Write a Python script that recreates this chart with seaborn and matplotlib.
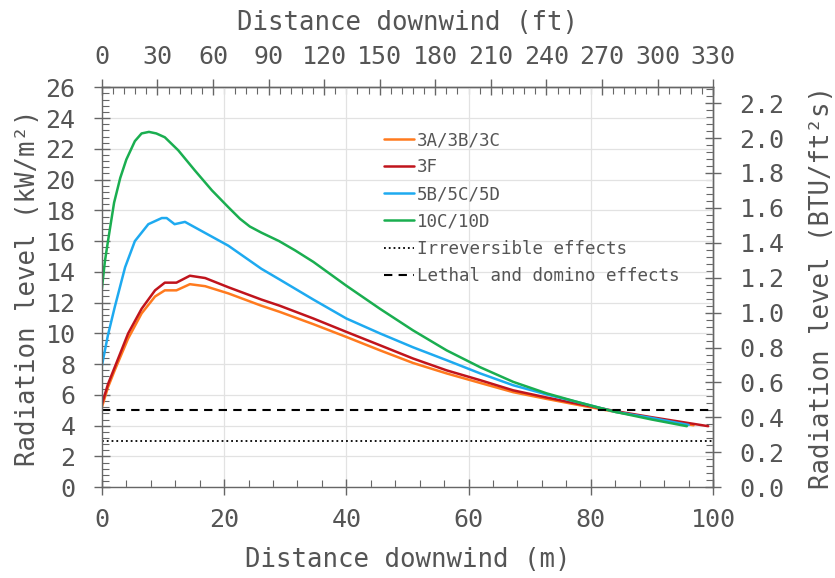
import matplotlib
matplotlib.use("Agg")
import matplotlib.pyplot as plt
from matplotlib.ticker import MultipleLocator
import pandas as pd
import seaborn as sns

# values: distance (m) -> radiation (kW/m2)
x_3abc = [0, 1, 2.1, 4.3, 6.5, 8.7, 10.3, 12.2, 14.4, 16.9, 20.7, 26.1, 29.1, 34.6, 40,
          45.5, 50.9, 56.4, 61.9, 67.3, 72.8, 78.2, 84, 90, 96.8]
y_3abc = [5.2, 6.5, 7.6, 9.67, 11.3, 12.4, 12.8, 12.8, 13.2, 13.07, 12.6, 11.8, 11.4, 10.6, 9.77,
          8.9, 8.08, 7.4, 6.78, 6.18, 5.74, 5.33, 4.9, 4.5, 4.03]

x_3f = [0, 1, 2.1, 4.3, 6.5, 8.7, 10.3, 12.2, 14.4, 16.9, 20.7, 26.1, 29.1, 34.6, 40,
        45.5, 50.9, 56.4, 61.9, 67.3, 72.8, 78.2, 84, 90, 99.2]
y_3f = [5.4, 6.7, 7.8, 10.0, 11.6, 12.8, 13.3, 13.3, 13.75, 13.6, 13.0, 12.2, 11.8, 10.97, 10.1,
        9.23, 8.37, 7.6, 6.96, 6.3, 5.83, 5.4, 4.95, 4.55, 3.97]

x_5bcd = [0, 1, 2.1, 3.8, 5.4, 7.6, 9.8, 10.6, 11.9, 13.6, 15.2, 20.7, 26.1, 29.1, 34.6, 40,
          45.5, 50.9, 56.4, 61.9, 67.3, 72.8, 78.2, 84, 90, 96]
y_5bcd = [7.9, 9.9, 11.7, 14.3, 16.0, 17.1, 17.5, 17.5, 17.1, 17.25, 16.9, 15.7, 14.2, 13.5, 12.2, 10.97,
          10.0, 9.1, 8.26, 7.4, 6.63, 6.03, 5.5, 4.9, 4.5, 4.05]

x_10cd = [0, 0.5, 1, 2, 3, 4, 5.4, 6.5, 7.7, 8.9, 10.3, 12.5, 15.2, 18, 20.7, 22.6, 24.2, 26.1, 29, 31.6,
          34.6, 40, 45.5, 50.9, 56.4, 61.9, 67.3, 72.8, 78.2, 84, 90, 95.7]
y_10cd = [12.9, 14.7, 16.0, 18.5, 20.1, 21.3, 22.5, 23.0, 23.1, 23.0, 22.75, 21.9, 20.6, 19.3, 18.2, 17.45, 16.95, 16.55, 16.0, 15.4,
          14.65, 13.1, 11.6, 10.2, 8.9, 7.8, 6.85, 6.1, 5.5, 4.9, 4.4, 3.97]

cases = ['3A/3B/3C', '3F', '5B/5C/5D', '10C/10D']
colors = ['#ff7a1e', '#c0141c', '#1eaaf0', '#1aae50']
irreversible = 3
lethal = 5

frames = []
for name, xs, ys in zip(cases, [x_3abc, x_3f, x_5bcd, x_10cd], [y_3abc, y_3f, y_5bcd, y_10cd]):
    frames.append(pd.DataFrame({'dist': xs, 'rad': ys, 'case': name}))
df = pd.concat(frames, ignore_index=True)

sns.set_style("ticks")
plt.rcParams['font.family'] = ['DejaVu Sans Mono']
txt = '#555555'
edge = '#666666'

fig = plt.figure(figsize=(8.35, 5.78), dpi=100)
ax = fig.add_axes([0.122, 0.157, 0.732, 0.692])

sns.lineplot(data=df, x='dist', y='rad', hue='case', hue_order=cases,
             palette=colors, linewidth=1.8, estimator=None, ax=ax)
ax.axhline(irreversible, color='k', ls=':', lw=1.3, label='Irreversible effects')
ax.axhline(lethal, color='k', ls=(0, (4, 3)), lw=1.5, label='Lethal and domino effects')

ax.set_xlim(0, 100)
ax.set_ylim(0, 26)
ax.xaxis.set_major_locator(MultipleLocator(20))
ax.xaxis.set_minor_locator(MultipleLocator(4))
ax.yaxis.set_major_locator(MultipleLocator(2))
ax.yaxis.set_minor_locator(MultipleLocator(0.4))
ax.grid(True, which='major', color='#e2e2e2', lw=0.9)
ax.set_axisbelow(True)

top = ax.secondary_xaxis('top', functions=(lambda m: m * 3.3, lambda f: f / 3.3))
right = ax.secondary_yaxis('right', functions=(lambda k: k * 0.0881, lambda b: b / 0.0881))
top.xaxis.set_major_locator(MultipleLocator(30))
top.xaxis.set_minor_locator(MultipleLocator(6))
right.yaxis.set_major_locator(MultipleLocator(0.2))
right.yaxis.set_minor_locator(MultipleLocator(0.04))

for a in (ax, top, right):
    a.tick_params(which='major', direction='inout', length=12, width=1, color=edge,
                  labelsize=18, labelcolor=txt)
    a.tick_params(which='minor', direction='in', length=5, width=0.8, color=edge)
    for s in a.spines.values():
        s.set_color(edge)
        s.set_linewidth(1)
ax.tick_params(axis='x', which='major', pad=9)
ax.tick_params(axis='y', which='major', pad=13)
top.tick_params(axis='x', which='major', pad=7)
right.tick_params(axis='y', which='major', pad=13)

ax.set_xlabel('Distance downwind (m)', fontsize=18.5, color=txt, labelpad=11)
ax.set_ylabel('Radiation level (kW/m²)', fontsize=18.5, color=txt, labelpad=3)
top.set_xlabel('Distance downwind (ft)', fontsize=18.5, color=txt, labelpad=11)
right.set_ylabel('Radiation level (BTU/ft²s)', fontsize=18.5, color=txt, labelpad=18)

handles, labels = ax.get_legend_handles_labels()
ax.legend(handles, labels, loc='upper left', bbox_to_anchor=(0.462, 0.89), frameon=False,
          fontsize=12.6, labelcolor=txt, handlelength=1.7, handletextpad=0.15,
          labelspacing=0.52, borderpad=0, borderaxespad=0)

fig.savefig('out.png', dpi=100)
